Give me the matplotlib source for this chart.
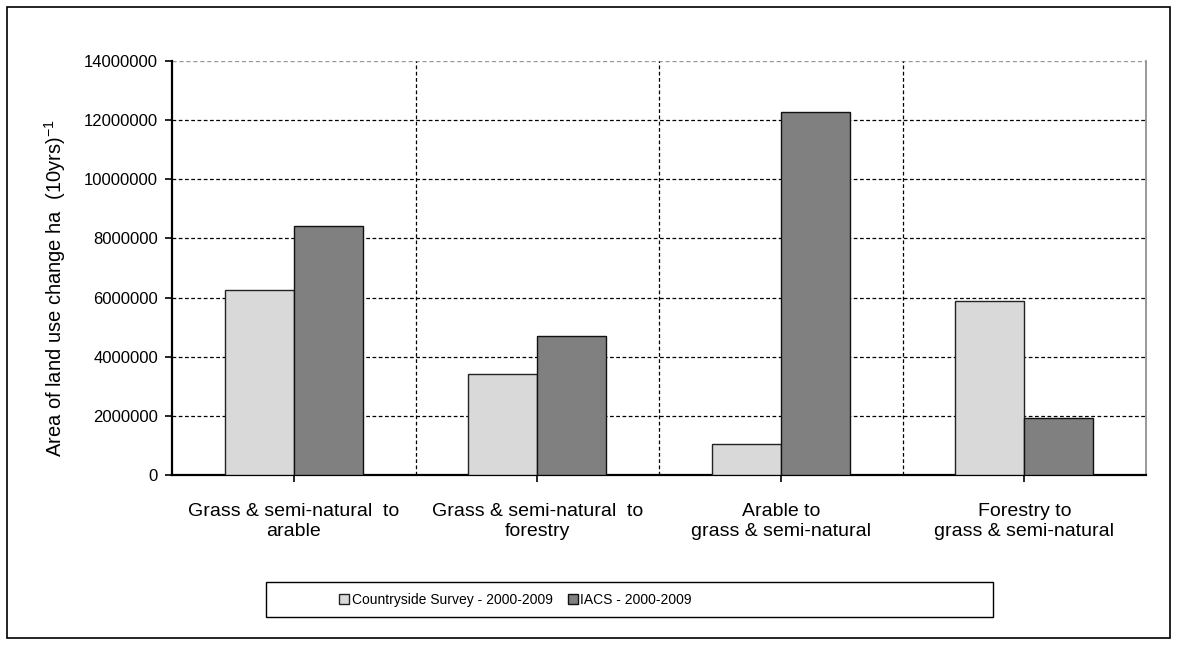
import matplotlib
matplotlib.use("Agg")
import matplotlib.pyplot as plt
import numpy as np
from matplotlib.patches import Rectangle

plt.rcParams['font.family'] = ['Liberation Sans', 'DejaVu Sans']

categories = ["Grass & semi-natural  to\narable", "Grass & semi-natural  to\nforestry",
              "Arable to\ngrass & semi-natural", "Forestry to\ngrass & semi-natural"]
series_names = ["Countryside Survey - 2000-2009", "IACS - 2000-2009"]
cs_values = [6270000, 3420000, 1050000, 5880000]
iacs_values = [8430000, 4700000, 12270000, 1940000]
yticks = [0, 2000000, 4000000, 6000000, 8000000, 10000000, 12000000, 14000000]

W, H = 1178, 646
fig = plt.figure(figsize=(W/100, H/100), dpi=100)
fig.patches.append(Rectangle((7/W, 8/H), 1163/W, 631/H, transform=fig.transFigure,
                             fill=False, edgecolor='black', linewidth=1.2))

ax = fig.add_axes([172/W, 1-475/H, 974/W, 414/H])
x = np.arange(len(categories))
w = 0.284
b1 = ax.bar(x - w/2, cs_values, w, color='#d9d9d9', edgecolor='#222222', linewidth=1.0,
            label=series_names[0], zorder=3)
b2 = ax.bar(x + w/2, iacs_values, w, color='#808080', edgecolor='#111111', linewidth=1.0,
            label=series_names[1], zorder=3)

ax.set_xlim(-0.5, len(categories) - 0.5)
ax.set_ylim(0, 14000000)
ax.set_yticks(yticks)
ax.set_yticklabels([str(v) for v in yticks], fontsize=12)
ax.set_xticks(x)
ax.set_xticklabels(categories, fontsize=14, linespacing=1.25)
ax.tick_params(axis='x', which='major', length=5, width=1.2, pad=15)
ax.tick_params(axis='y', length=5, width=1.2, pad=5)

for yv in yticks[1:-1]:
    ax.axhline(yv, color='black', linestyle=(0, (3, 2)), linewidth=0.9, zorder=1)
ax.axhline(14000000, color='#999999', linestyle=(0, (3, 2)), linewidth=1.0, zorder=1)
for xv in np.arange(1, len(categories)) - 0.5:
    ax.axvline(xv, color='black', linestyle=(0, (3, 2)), linewidth=0.9, zorder=1)

ax.spines['top'].set_visible(False)
ax.spines['right'].set_color('#888888')
ax.spines['right'].set_linewidth(1.2)
ax.spines['left'].set_linewidth(1.6)
ax.spines['bottom'].set_linewidth(1.6)

ax.set_ylabel("Area of land use change ha  (10yrs)$^{\\mathregular{-1}}$", fontsize=14.5)
ax.yaxis.set_label_coords((68 - 172) / 974, (475 - 288) / 414)

# legend box (Excel-style wide frame) with items placed inside
fig.patches.append(Rectangle((266/W, 1-617/H), 727/W, 35/H, transform=fig.transFigure,
                             fill=False, edgecolor='black', linewidth=1.0))
leg_kw = dict(loc='center left', frameon=False, handlelength=0.75, handleheight=0.75,
              handletextpad=0.15, borderpad=0.0, borderaxespad=0.0, fontsize=10)
leg1 = fig.legend(handles=[b1], labels=[series_names[0]],
                  bbox_to_anchor=(339/W, 1-600/H), **leg_kw)
leg2 = fig.legend(handles=[b2], labels=[series_names[1]],
                  bbox_to_anchor=(568/W, 1-600/H), **leg_kw)

fig.savefig("out.png", dpi=100)
